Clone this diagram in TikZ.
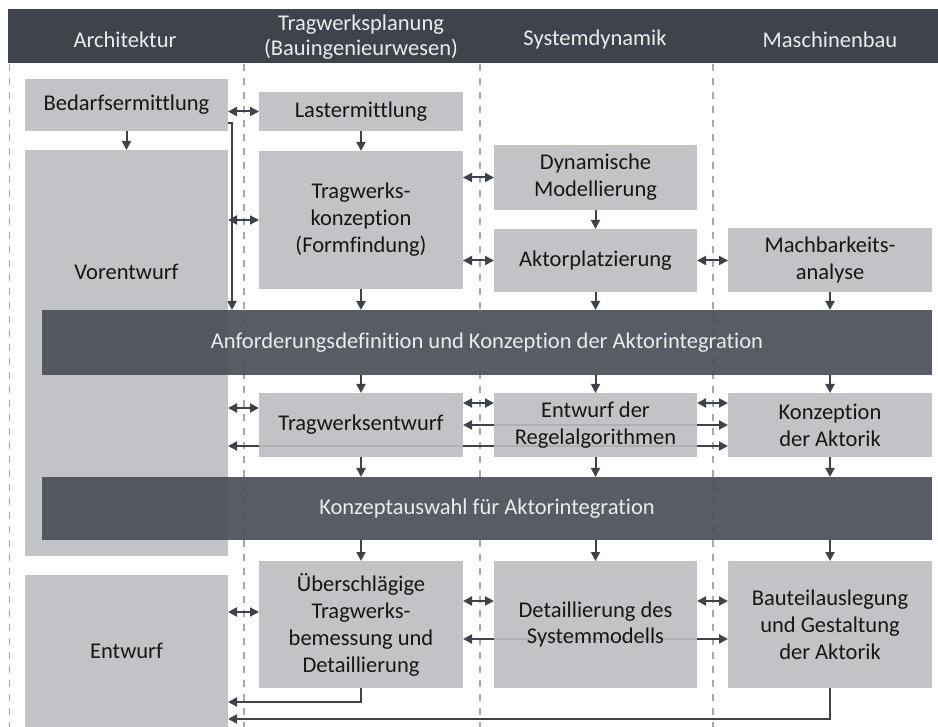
\documentclass[tikz,border=0pt]{standalone}
\usepackage{fontspec}
\setmainfont[Ligatures=NoCommon]{Carlito}
\usetikzlibrary{arrows.meta,calc}
\definecolor{hdr}{RGB}{63,68,76}
\definecolor{barc}{RGB}{75,80,88}
\definecolor{boxc}{RGB}{187,189,192}
\definecolor{arr}{RGB}{62,67,75}
\definecolor{txt}{RGB}{22,22,22}
\definecolor{lighttxt}{RGB}{236,236,236}
\definecolor{dsh}{RGB}{168,168,168}
\pgfdeclarelayer{bg}
\pgfsetlayers{bg,main}
\begin{document}
\begin{tikzpicture}[x=1pt,y=-1pt,
  every node/.style={font=\fontsize{22.5}{27}\selectfont, inner sep=0pt, outer sep=0pt},
  box/.style={anchor=north west, fill=boxc, fill opacity=0.9, text opacity=1, text=txt, align=center},
  bar/.style={anchor=north west, fill=barc, fill opacity=0.93, text opacity=1, text=lighttxt},
  head/.style={text=lighttxt, align=center},
  lbl/.style={text=txt, align=center},
  flow/.style={draw=arr, line width=2pt, -{Triangle[length=9pt,width=9pt]}},
  both/.style={draw=arr, line width=2pt, {Triangle[length=9pt,width=9pt]}-{Triangle[length=9pt,width=9pt]}},
  lane/.style={draw=dsh, line width=1.8pt, dash pattern=on 7pt off 7pt},
]
\useasboundingbox (0,0) rectangle (938,727);

% header band with the four disciplines
\fill[hdr] (8,9) rectangle (938,63);
\node[head] (hA) at (125,40) {Architektur};
\node[head, font=\fontsize{22.5}{25}\selectfont] (hT) at (361,37) {Tragwerksplanung\\(Bauingenieurwesen)};
\node[head] (hS) at (595,40) {Systemdynamik};
\node[head] (hM) at (830,40) {Maschinenbau};

% process steps
\node[box, minimum width=203pt, minimum height=52pt]  (bed)  at (25,79)  {Bedarfsermittlung};
\node[box, minimum width=204pt, minimum height=39pt]  (last) at (259,92) {Lastermittlung};
\node[box, minimum width=203pt, minimum height=406pt] (vor)  at (25,150) {};
\node[lbl] (vortxt) at ($(vor.north)+(0,122)$) {Vorentwurf};
\node[box, minimum width=204pt, minimum height=138pt] (kon)  at (259,151) {Tragwerks-\\konzeption\\(Formfindung)};
\node[box, minimum width=203pt, minimum height=65pt]  (dyn)  at (494,145) {Dynamische\\Modellierung};
\node[box, minimum width=203pt, minimum height=63pt]  (akt)  at (494,229) {Aktorplatzierung};
\node[box, minimum width=204pt, minimum height=64pt]  (mach) at (728,228) {Machbarkeits-\\analyse};
\node[bar, minimum width=890pt, minimum height=65pt]  (bar1) at (42,310) {Anforderungsdefinition und Konzeption der Aktorintegration};
\node[box, minimum width=204pt, minimum height=64pt]  (tre)  at (259,393) {Tragwerksentwurf};
\node[box, minimum width=203pt, minimum height=64pt]  (reg)  at (494,393) {Entwurf der\\Regelalgorithmen};
\node[box, minimum width=204pt, minimum height=64pt]  (ka)   at (728,393) {Konzeption\\der Aktorik};
\node[bar, minimum width=890pt, minimum height=63pt]  (bar2) at (42,477) {Konzeptauswahl für Aktorintegration};
\node[box, minimum width=203pt, minimum height=152pt] (ent)  at (25,575) {Entwurf};
\node[box, minimum width=204pt, minimum height=127pt] (ueb)  at (259,561) {Überschlägige\\Tragwerks-\\bemessung und\\Detaillierung};
\node[box, minimum width=203pt, minimum height=127pt] (det)  at (494,561) {Detaillierung des\\Systemmodells};
\node[box, minimum width=204pt, minimum height=127pt] (bau)  at (728,561) {Bauteilauslegung\\und Gestaltung\\der Aktorik};

\coordinate (bj) at (232,123);
\coordinate (r1) at (0,702);
\coordinate (r2) at (0,719);

\begin{pgfonlayer}{bg}
  % swim lane separators
  \draw[lane] (9.5,64) -- (9.5,727);
  \draw[lane] (244,64) -- (244,727);
  \draw[lane] (480,64) -- (480,727);
  \draw[lane] (713,64) -- (713,727);

  % downward flow
  \draw[flow] (bed.south) -- (vor.north -| bed.south);
  \draw[flow] (last.south) -- (kon.north);
  \draw[flow] (kon.south) -- (bar1.north -| kon.south);
  \draw[flow] (dyn.south) -- (akt.north);
  \draw[flow] (akt.south) -- (bar1.north -| akt.south);
  \draw[flow] (mach.south) -- (bar1.north -| mach.south);
  \draw[flow] (bar1.south -| tre.north) -- (tre.north);
  \draw[flow] (bar1.south -| reg.north) -- (reg.north);
  \draw[flow] (bar1.south -| ka.north) -- (ka.north);
  \draw[flow] (tre.south) -- (bar2.north -| tre.south);
  \draw[flow] (reg.south) -- (bar2.north -| reg.south);
  \draw[flow] (ka.south) -- (bar2.north -| ka.south);
  \draw[flow] (bar2.south -| ueb.north) -- (ueb.north);
  \draw[flow] (bar2.south -| det.north) -- (det.north);
  \draw[flow] (bar2.south -| bau.north) -- (bau.north);

  % Bedarfsermittlung straight into the first definition stage
  \draw[flow] ([yshift=-18pt]bed.east) -- (bj) -- (bj |- bar1.north);

  % exchanges between neighbouring disciplines
  \draw[both] (bed.east |- last.west) -- (last.west);
  \draw[both] (vor.east |- kon.west) -- (kon.west);
  \draw[both] (kon.east |- dyn.west) -- (dyn.west);
  \draw[both] (kon.east |- akt.west) -- (akt.west);
  \draw[both] (akt.east) -- (mach.west |- akt.east);
  \draw[both] (vor.east |- 0,408) -- (tre.west |- 0,408);
  \draw[both] (tre.east |- 0,403) -- (reg.west |- 0,403);
  \draw[both] (reg.east |- 0,403) -- (ka.west |- 0,403);
  \draw[both] (tre.east) -- (ka.west);
  \draw[both] (vor.east |- 0,446) -- (ka.west |- 0,446);
  \draw[both] (ent.east |- 0,612) -- (ueb.west |- 0,612);
  \draw[both] (ueb.east |- 0,601) -- (det.west |- 0,601);
  \draw[both] (det.east |- 0,601) -- (bau.west |- 0,601);
  \draw[both] (ueb.east |- 0,639) -- (bau.west |- 0,639);

  % feedback into the design stage
  \draw[flow] (ueb.south) -- (ueb.south |- r1) -- (ent.east |- r1);
  \draw[flow] (bau.south) -- (bau.south |- r2) -- (ent.east |- r2);
\end{pgfonlayer}
\end{tikzpicture}
\end{document}
